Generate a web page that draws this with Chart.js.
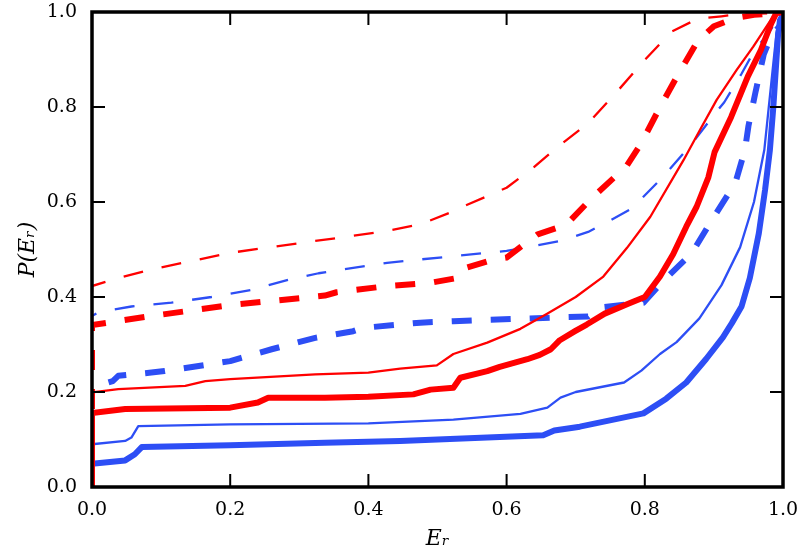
<!DOCTYPE html>
<html>
<head>
<meta charset="utf-8">
<script src="https://cdn.jsdelivr.net/npm/chart.js@4/dist/chart.umd.min.js"></script>
<style>
html,body{margin:0;padding:0;background:#fff;}
#c{display:block;}
</style>
</head>
<body>
<canvas id="c" width="799" height="553"></canvas>
<script>
// ---- tick labels ----
const xTicks = [0.0, 0.2, 0.4, 0.6, 0.8, 1.0];
const yTicks = [0.0, 0.2, 0.4, 0.6, 0.8, 1.0];

// ---- series values: [E_r, P(E_r)] ----
const redThinSolid = [[0,0],[0,0.199],[0.038,0.206],[0.135,0.213],[0.164,0.223],[0.2,0.227],[0.323,0.237],[0.4,0.241],[0.446,0.249],[0.499,0.256],[0.523,0.28],[0.572,0.304],[0.62,0.333],[0.658,0.364],[0.7,0.4],[0.74,0.443],[0.774,0.503],[0.808,0.569],[0.856,0.688],[0.88,0.752],[0.904,0.815],[0.933,0.878],[0.957,0.927],[0.976,0.969],[0.99,1.0],[1,1]];
const redThickSolid = [[0,0],[0,0.156],[0.048,0.164],[0.2,0.167],[0.24,0.178],[0.255,0.188],[0.337,0.188],[0.4,0.19],[0.465,0.195],[0.49,0.205],[0.523,0.209],[0.533,0.23],[0.572,0.244],[0.59,0.253],[0.63,0.269],[0.648,0.278],[0.664,0.29],[0.677,0.309],[0.699,0.328],[0.716,0.342],[0.742,0.365],[0.776,0.386],[0.8,0.4],[0.822,0.443],[0.841,0.49],[0.86,0.548],[0.875,0.59],[0.892,0.652],[0.901,0.705],[0.925,0.779],[0.949,0.864],[0.968,0.92],[0.983,0.976],[0.99,0.997],[1,1]];
const redThinDashed = [[0,0],[0,0.423],[0.038,0.44],[0.086,0.458],[0.2,0.493],[0.323,0.518],[0.349,0.523],[0.427,0.539],[0.475,0.553],[0.519,0.578],[0.533,0.588],[0.6,0.63],[0.64,0.674],[0.674,0.716],[0.718,0.766],[0.762,0.836],[0.8,0.899],[0.839,0.959],[0.877,0.986],[0.911,0.991],[0.94,0.996],[0.98,0.997],[1,1]];
const redThickDashed = [[0,0],[0,0.341],[0.086,0.36],[0.2,0.383],[0.337,0.403],[0.354,0.41],[0.427,0.423],[0.49,0.43],[0.533,0.441],[0.543,0.462],[0.582,0.479],[0.6,0.483],[0.625,0.511],[0.645,0.532],[0.678,0.548],[0.685,0.55],[0.723,0.608],[0.762,0.66],[0.772,0.672],[0.795,0.724],[0.82,0.794],[0.845,0.86],[0.877,0.94],[0.9,0.97],[0.93,0.987],[0.958,0.994],[0.99,0.998],[1,1]];
const blueThinSolid = [[0,0],[0,0.09],[0.048,0.097],[0.057,0.104],[0.067,0.128],[0.2,0.132],[0.4,0.134],[0.523,0.142],[0.62,0.154],[0.659,0.167],[0.678,0.188],[0.7,0.2],[0.77,0.22],[0.795,0.245],[0.822,0.28],[0.846,0.305],[0.879,0.355],[0.911,0.425],[0.938,0.505],[0.958,0.6],[0.973,0.71],[0.979,0.794],[0.988,0.92],[0.993,0.984],[1,1]];
const blueThickSolid = [[0,0],[0,0.049],[0.048,0.056],[0.062,0.069],[0.072,0.084],[0.2,0.088],[0.337,0.093],[0.446,0.097],[0.572,0.104],[0.653,0.109],[0.669,0.119],[0.706,0.127],[0.798,0.155],[0.831,0.186],[0.86,0.22],[0.889,0.27],[0.913,0.315],[0.926,0.345],[0.94,0.38],[0.952,0.44],[0.965,0.534],[0.974,0.625],[0.981,0.709],[0.986,0.8],[0.993,0.955],[1,1]];
const blueThinDashed = [[0,0],[0,0.36],[0.01,0.368],[0.057,0.38],[0.115,0.388],[0.173,0.4],[0.231,0.415],[0.284,0.436],[0.328,0.45],[0.427,0.472],[0.523,0.486],[0.6,0.497],[0.678,0.518],[0.718,0.537],[0.742,0.555],[0.781,0.586],[0.829,0.657],[0.858,0.706],[0.872,0.73],[0.901,0.785],[0.915,0.81],[0.94,0.87],[0.959,0.92],[0.979,0.955],[0.988,0.976],[1,1]];
const blueThickDashed = [[0,0],[0,0.21],[0.03,0.223],[0.038,0.234],[0.086,0.241],[0.105,0.244],[0.2,0.265],[0.216,0.272],[0.26,0.29],[0.323,0.314],[0.378,0.328],[0.392,0.335],[0.475,0.346],[0.523,0.349],[0.672,0.357],[0.718,0.359],[0.735,0.378],[0.798,0.388],[0.826,0.433],[0.868,0.492],[0.897,0.562],[0.931,0.64],[0.945,0.71],[0.95,0.76],[0.96,0.83],[0.972,0.91],[0.983,0.95],[0.995,0.97],[1,1]];

const RED = '#ff0000';
const BLUE = '#2d4ef5';
const THIN = 2.3, THICK = 6;
const DASH = [20, 19];

function ds(data, color, width, dashed) {
  return {
    data: data,
    borderColor: color,
    borderWidth: width,
    borderDash: dashed ? DASH : [],
    borderCapStyle: 'butt',
    borderJoinStyle: 'round',
    pointRadius: 0,
    pointHoverRadius: 0,
    fill: false,
    tension: 0
  };
}

const frame = {
  id: 'frame',
  afterDatasetsDraw(chart) {
    const {ctx, chartArea: a, scales: {x, y}} = chart;
    ctx.save();
    ctx.strokeStyle = '#000';
    ctx.lineWidth = 2;
    const L = 13;
    ctx.beginPath();
    xTicks.forEach(v => {
      const p = x.getPixelForValue(v);
      ctx.moveTo(p, a.bottom); ctx.lineTo(p, a.bottom - L);
      ctx.moveTo(p, a.top); ctx.lineTo(p, a.top + L);
    });
    yTicks.forEach(v => {
      const p = y.getPixelForValue(v);
      ctx.moveTo(a.left, p); ctx.lineTo(a.left + L, p);
      ctx.moveTo(a.right, p); ctx.lineTo(a.right - L, p);
    });
    ctx.stroke();
    ctx.lineWidth = 3.5;
    ctx.strokeRect(a.left, a.top, a.right - a.left, a.bottom - a.top);
    ctx.restore();
  }
};

function noPad(s) { s.paddingLeft = 0; s.paddingRight = 0; s.paddingTop = 0; s.paddingBottom = 0; }

const tickFont = {family: 'DejaVu Serif', size: 19};
const titleFont = {family: 'DejaVu Serif', size: 22, style: 'italic'};

new Chart(document.getElementById('c'), {
  type: 'line',
  data: {
    datasets: [
      ds(redThickDashed, RED, THICK, true),
      ds(redThinDashed, RED, THIN, true),
      ds(redThickSolid, RED, THICK, false),
      ds(redThinSolid, RED, THIN, false),
      ds(blueThickDashed, BLUE, THICK, true),
      ds(blueThinDashed, BLUE, THIN, true),
      ds(blueThickSolid, BLUE, THICK, false),
      ds(blueThinSolid, BLUE, THIN, false)
    ]
  },
  options: {
    responsive: false,
    animation: false,
    devicePixelRatio: 1,
    layout: {padding: {left: 0, right: 16, top: 12, bottom: 0}},
    plugins: {legend: {display: false}, tooltip: {enabled: false}},
    scales: {
      x: {
        type: 'linear', min: 0, max: 1,
        grid: {display: false, drawTicks: false},
        border: {display: false},
        afterBuildTicks(s) { s.ticks = xTicks.map(v => ({value: v})); },
        afterFit(s) { s.height = 66; noPad(s); },
        ticks: {color: '#000', font: tickFont, padding: 12, maxRotation: 0,
                callback: v => Number(v).toFixed(1)},
        title: {display: true, text: 'Eᵣ', color: '#000', font: titleFont, padding: {top: 0, bottom: 1}}
      },
      y: {
        type: 'linear', min: 0, max: 1,
        grid: {display: false, drawTicks: false},
        border: {display: false},
        afterBuildTicks(s) { s.ticks = yTicks.map(v => ({value: v})); },
        afterFit(s) { s.width = 92; noPad(s); },
        ticks: {color: '#000', font: tickFont, padding: 15,
                callback: v => Number(v).toFixed(1)},
        title: {display: true, text: 'P(Eᵣ)', color: '#000', font: titleFont, padding: {top: 15, bottom: 0}}
      }
    }
  },
  plugins: [frame]
});
</script>
</body>
</html>
